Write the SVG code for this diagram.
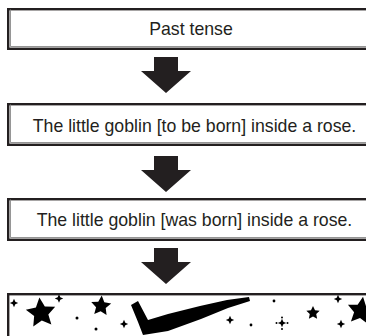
<svg xmlns="http://www.w3.org/2000/svg" width="366" height="336" viewBox="0 0 366 336">
  <style>
    .frame { fill: #ffffff; stroke: #231f20; stroke-width: 2.4; }
    .inner { fill: none; stroke: #8a8a8a; stroke-width: 1; }
    .label { font-family: "Liberation Sans", Arial, sans-serif; font-size: 17.7px; fill: #231f20; text-anchor: middle; }
    .arrow { fill: #231f20; }
    .ink { fill: #000000; }
  </style>
  <defs>
    <!-- five-point star, outer radius 10 -->
    <polygon id="star" points="0,-10 2.9,-3.9 9.51,-3.09 4.6,1.5 5.88,8.09 0,4.9 -5.88,8.09 -4.6,1.5 -9.51,-3.09 -2.9,-3.9"/>
    <!-- small four-point sparkle -->
    <polygon id="sparkle" points="0,-4.2 1.3,-1.3 4.2,0 1.3,1.3 0,4.2 -1.3,1.3 -4.2,0 -1.3,-1.3"/>
    <!-- block down arrow -->
    <polygon id="down" points="-12,0 12,0 12,14 25,14 0,36 -25,14 -12,14"/>
  </defs>

  <g id="past-tense">
    <rect class="frame" x="8.2" y="9.2" width="372" height="39.6"/>
    <polyline class="inner" points="10.4,9.5 10.4,46.6 366,46.6"/>
    <text class="label" x="191" y="35">Past tense</text>
  </g>

  <g id="to-be-born">
    <rect class="frame" x="8.2" y="104.2" width="372" height="40.6"/>
    <polyline class="inner" points="10.4,104.5 10.4,142.6 366,142.6"/>
    <text class="label" x="194.5" y="132">The little goblin [to be born] inside a rose.</text>
  </g>

  <g id="was-born">
    <rect class="frame" x="8.2" y="199.2" width="372" height="40.6"/>
    <polyline class="inner" points="10.4,199.5 10.4,237.6 366,237.6"/>
    <text class="label" x="194.5" y="226">The little goblin [was born] inside a rose.</text>
  </g>

  <g id="starry-sky">
    <rect class="frame" x="8.2" y="294.2" width="372" height="60"/>
    <g class="ink">
      <use href="#sparkle" x="14" y="303"/>
      <use href="#star" transform="translate(41 313) rotate(-6) scale(1.55)"/>
      <use href="#sparkle" x="59" y="298.5"/>
      <circle cx="77" cy="318" r="1.5"/>
      <circle cx="96" cy="329" r="1.5"/>
      <use href="#star" transform="translate(101 306) rotate(4) scale(1.05)"/>
      <use href="#sparkle" x="124" y="324"/>
      <path d="M131,305 L138,301 L148,320 L168,314 L200,306 L227,300 L249,297 L250,301 L228,308 L201,319 L168,331 L143,335 L138,322 Z"/>
      <use href="#sparkle" x="230" y="320"/>
      <circle cx="251" cy="325" r="1.4"/>
      <circle cx="274" cy="301" r="1.4"/>
      <use href="#sparkle" x="282" y="323"/>
      <circle cx="276.5" cy="323" r="1"/>
      <circle cx="287.5" cy="323" r="1"/>
      <circle cx="282" cy="317.5" r="1"/>
      <circle cx="282" cy="329" r="1"/>
      <use href="#star" transform="translate(313 313) scale(0.7)"/>
      <use href="#sparkle" x="338" y="299"/>
      <use href="#sparkle" x="341" y="324"/>
      <use href="#star" transform="translate(361 311) rotate(8) scale(1.45)"/>
    </g>
  </g>

  <g id="connectors">
    <use class="arrow" href="#down" x="166" y="57"/>
    <use class="arrow" href="#down" x="166" y="156"/>
    <use class="arrow" href="#down" x="166" y="248"/>
  </g>
</svg>
